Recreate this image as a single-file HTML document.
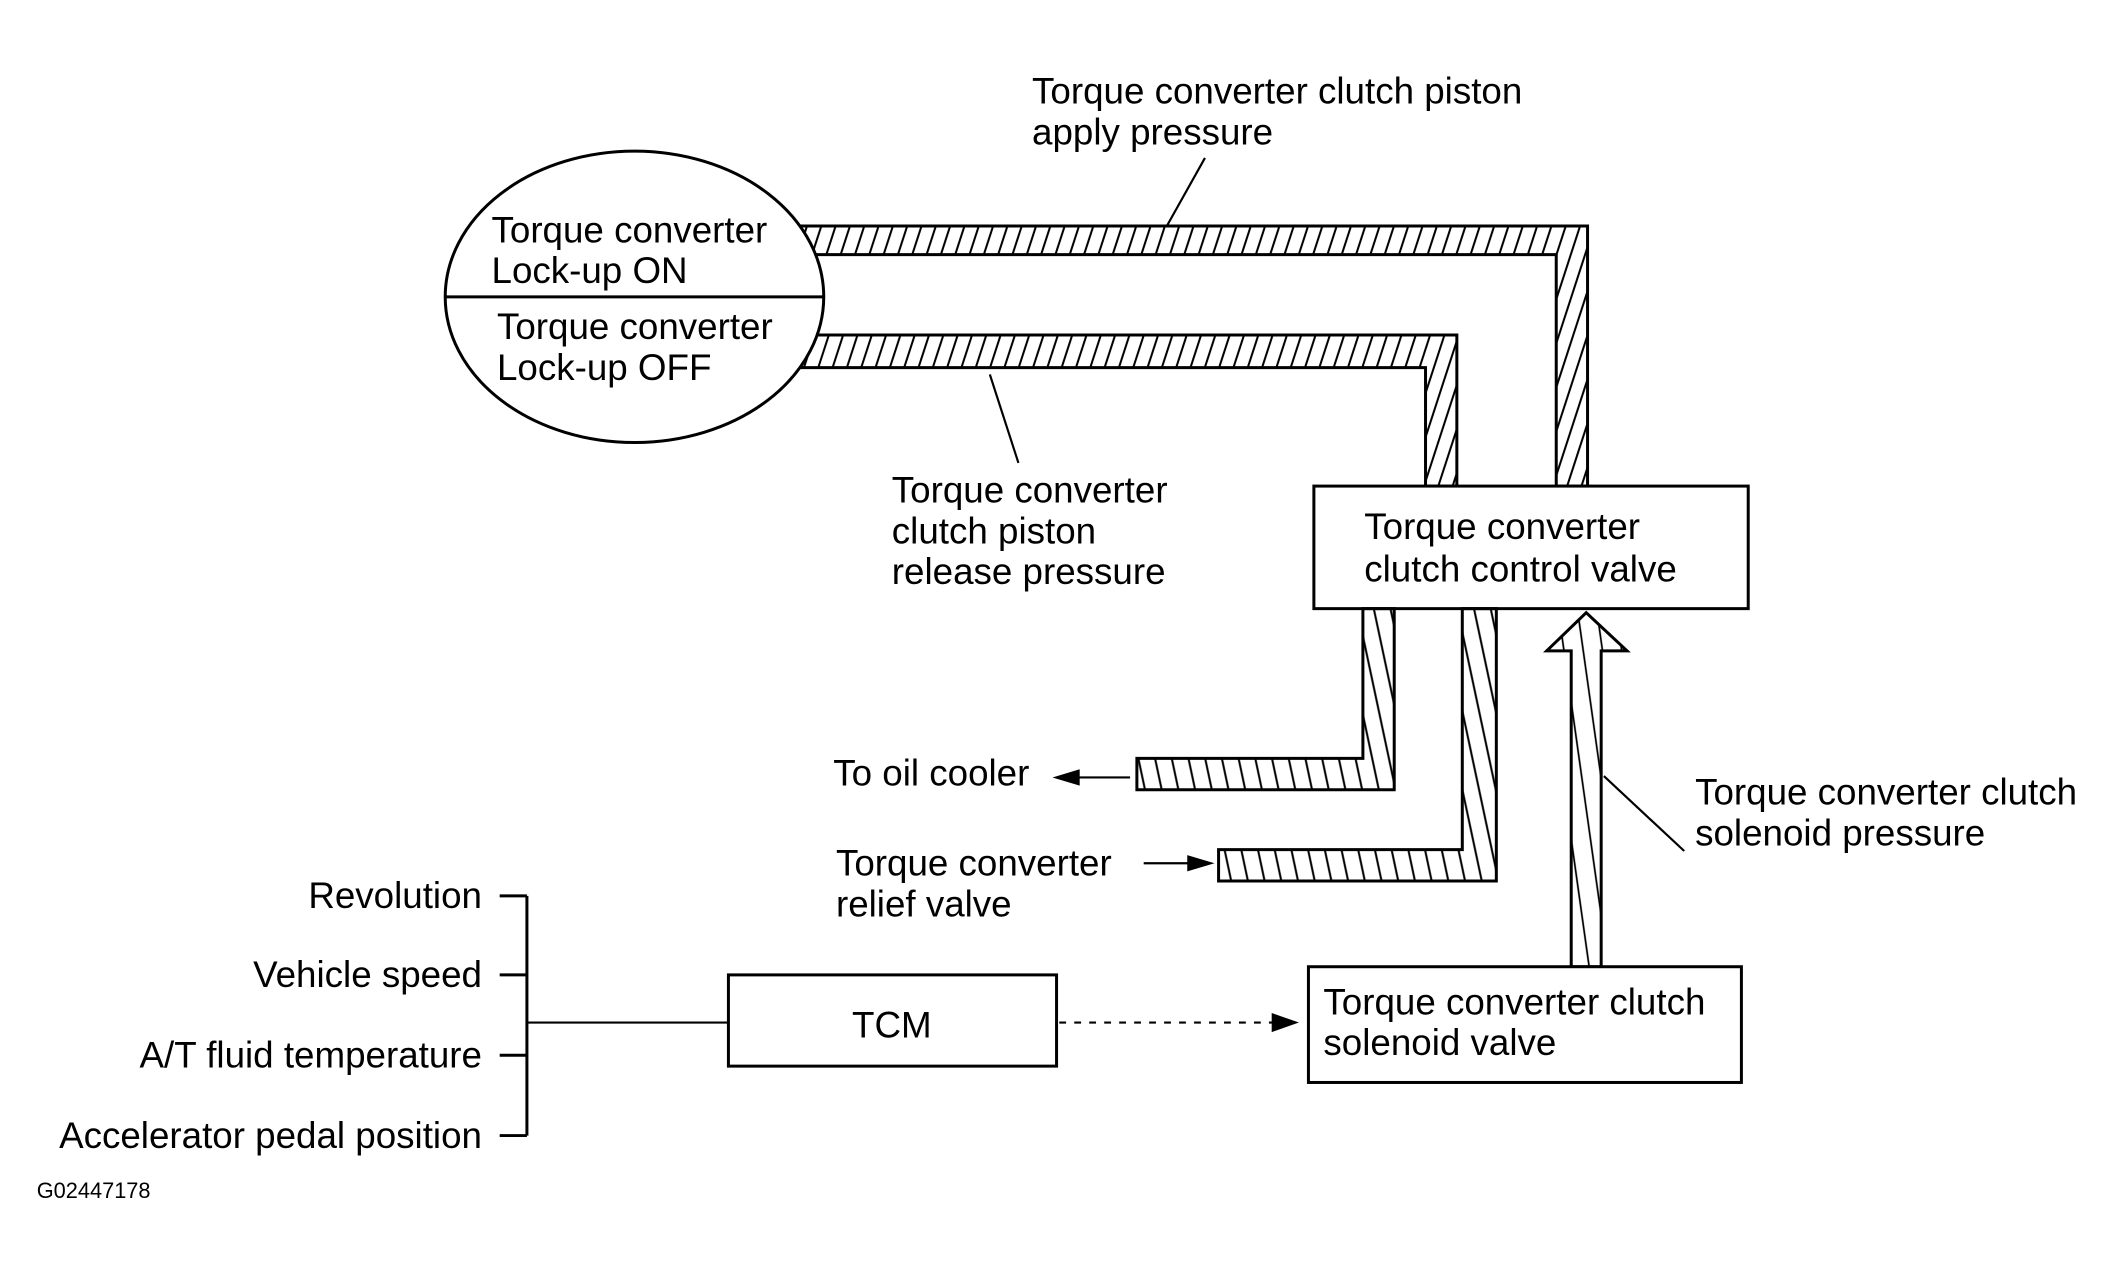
<!DOCTYPE html>
<html><head><meta charset="utf-8"><style>
html,body{margin:0;padding:0;background:#fff;}
svg{display:block;}
text{font-family:"Liberation Sans",Arial,sans-serif;font-size:27px;fill:#000;}
</style></head><body>
<svg width="2124" height="1269" viewBox="0 0 1560 932" preserveAspectRatio="none" xmlns="http://www.w3.org/2000/svg">
<defs>
<pattern id="h1" width="10" height="10" patternUnits="userSpaceOnUse" patternTransform="rotate(18)">
<line x1="5" y1="0" x2="5" y2="10" stroke="#000" stroke-width="1.5"/></pattern>
<pattern id="h2" width="12" height="12" patternUnits="userSpaceOnUse" patternTransform="rotate(-12)">
<line x1="6" y1="0" x2="6" y2="12" stroke="#000" stroke-width="1.5"/></pattern>
<pattern id="h3" width="14" height="14" patternUnits="userSpaceOnUse" patternTransform="rotate(-8)">
<line x1="7" y1="0" x2="7" y2="14" stroke="#000" stroke-width="1.3"/></pattern>
</defs>
<g stroke="#000" stroke-width="2.2">
<polygon points="560,166 1166,166 1166,357 1143,357 1143,187 560,187" fill="url(#h1)"/>
<polygon points="560,246 1070,246 1070,357 1047,357 1047,270 560,270" fill="url(#h1)"/>
<ellipse cx="466" cy="218" rx="139" ry="107" fill="#fff"/>
<line x1="327" y1="218" x2="605" y2="218"/>
<rect x="965" y="357" width="319" height="90" fill="#fff"/>
<polygon points="1001,447 1024,447 1024,580 835,580 835,557 1001,557" fill="url(#h2)"/>
<polygon points="1074,447 1099,447 1099,647 895,647 895,624 1074,624" fill="url(#h2)"/>
<polygon points="1154,710 1154,478 1136,478 1165,450 1195,478 1176,478 1176,710" fill="url(#h3)"/>
<rect x="961" y="710" width="318" height="85" fill="#fff"/>
<rect x="535" y="716" width="241" height="67" fill="#fff"/>
</g>
<g stroke="#000" stroke-width="1.6" fill="none">
<line x1="885" y1="116" x2="857" y2="166"/>
<line x1="727" y1="275" x2="748" y2="340"/>
<line x1="1178" y1="570" x2="1237" y2="625"/>
<line x1="830" y1="571" x2="790" y2="571"/>
<line x1="840" y1="634" x2="875" y2="634"/>
<line x1="778" y1="751" x2="935" y2="751" stroke-dasharray="5,6"/>
<line x1="387" y1="751" x2="535" y2="751"/>
<line x1="387" y1="658" x2="387" y2="834" stroke-width="2.2"/>
<line x1="367" y1="658" x2="387" y2="658" stroke-width="2.2"/>
<line x1="367" y1="716" x2="387" y2="716" stroke-width="2.2"/>
<line x1="367" y1="775" x2="387" y2="775" stroke-width="2.2"/>
<line x1="367" y1="834" x2="387" y2="834" stroke-width="2.2"/>
</g>
<polygon points="773,571 793,565 793,577" fill="#000"/>
<polygon points="892,634 872,628 872,640" fill="#000"/>
<polygon points="954,751 934,744 934,758" fill="#000"/>
<text x="361" y="178">Torque converter</text>
<text x="361" y="208">Lock-up ON</text>
<text x="365" y="249">Torque converter</text>
<text x="365" y="279">Lock-up OFF</text>
<text x="758" y="76">Torque converter clutch piston</text>
<text x="758" y="106">apply pressure</text>
<text x="655" y="369">Torque converter</text>
<text x="655" y="399">clutch piston</text>
<text x="655" y="429">release pressure</text>
<text x="1002" y="396">Torque converter</text>
<text x="1002" y="427">clutch control valve</text>
<text x="612" y="577">To oil cooler</text>
<text x="614" y="643">Torque converter</text>
<text x="614" y="673">relief valve</text>
<text x="1245" y="591">Torque converter clutch</text>
<text x="1245" y="621">solenoid pressure</text>
<text x="972" y="745">Torque converter clutch</text>
<text x="972" y="775">solenoid valve</text>
<text x="655" y="762" text-anchor="middle">TCM</text>
<text x="354" y="667" text-anchor="end">Revolution</text>
<text x="354" y="725" text-anchor="end">Vehicle speed</text>
<text x="354" y="784" text-anchor="end">A/T fluid temperature</text>
<text x="354" y="843" text-anchor="end">Accelerator pedal position</text>
<text x="27" y="880" style="font-size:16px">G02447178</text>
</svg>
</body></html>
